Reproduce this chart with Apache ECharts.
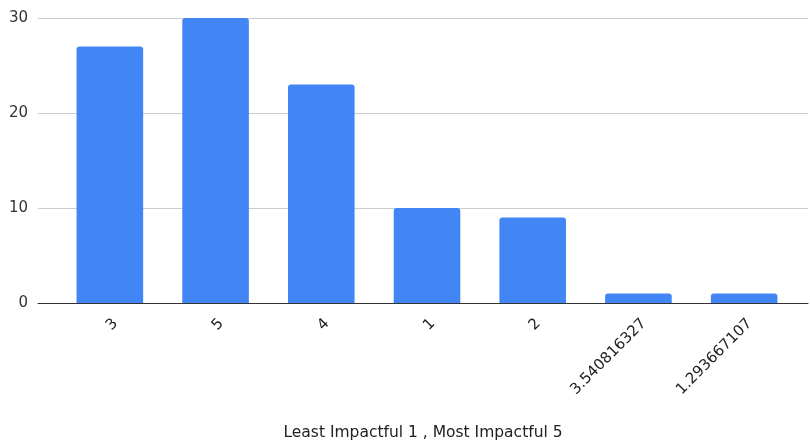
<!DOCTYPE html>
<html><head><meta charset="utf-8">
<script src="https://cdn.jsdelivr.net/npm/echarts@6/dist/echarts.min.js"></script>
<style>html,body{margin:0;padding:0;background:#fff}#c{width:810px;height:445px}</style>
</head><body><div id="c"></div>
<script>
const categories = ['3', '5', '4', '1', '2', '3.540816327', '1.293667107'];
const counts = [27, 30, 23, 10, 9, 1, 1];
const yTicks = [0, 10, 20, 30];
const xName = 'Least Impactful 1 , Most Impactful 5';

const chart = echarts.init(document.getElementById('c'), null, {renderer: 'canvas'});
chart.setOption({
  animation: false,
  grid: [
    {left: 38, right: 2, top: 18, bottom: 142, outerBoundsMode: 'none', containLabel: false},
    {left: 57, right: 13, top: 18, bottom: 142, outerBoundsMode: 'none', containLabel: false}
  ],
  xAxis: [
    {gridIndex: 0, type: 'category', data: [''], axisLabel: {show: false}, axisTick: {show: false},
     axisLine: {lineStyle: {color: '#333', width: 1}},
     name: xName, nameLocation: 'middle', nameGap: 122,
     nameTextStyle: {fontFamily: 'DejaVu Sans', fontSize: 15.5, color: '#222'}},
    {gridIndex: 1, type: 'category', data: categories, axisLine: {show: false}, axisTick: {show: false},
     axisLabel: {rotate: 45, interval: 0, fontFamily: 'DejaVu Sans', fontSize: 15, color: '#222',
                 margin: 24, padding: [0, -8, 0, 0]}}
  ],
  yAxis: [
    {gridIndex: 0, type: 'value', min: yTicks[0], max: yTicks[yTicks.length - 1], interval: 10,
     axisLine: {show: false}, axisTick: {show: false},
     axisLabel: {fontFamily: 'DejaVu Sans', fontSize: 15, color: '#333', margin: 10},
     splitLine: {lineStyle: {color: '#cccccc', width: 1}}},
    {gridIndex: 1, type: 'value', min: yTicks[0], max: yTicks[yTicks.length - 1], interval: 10, show: false}
  ],
  series: [{
    type: 'bar', xAxisIndex: 1, yAxisIndex: 1, data: counts, barWidth: '63%',
    itemStyle: {color: '#4285f4', borderRadius: [3, 3, 0, 0]}
  }]
});
</script></body></html>
